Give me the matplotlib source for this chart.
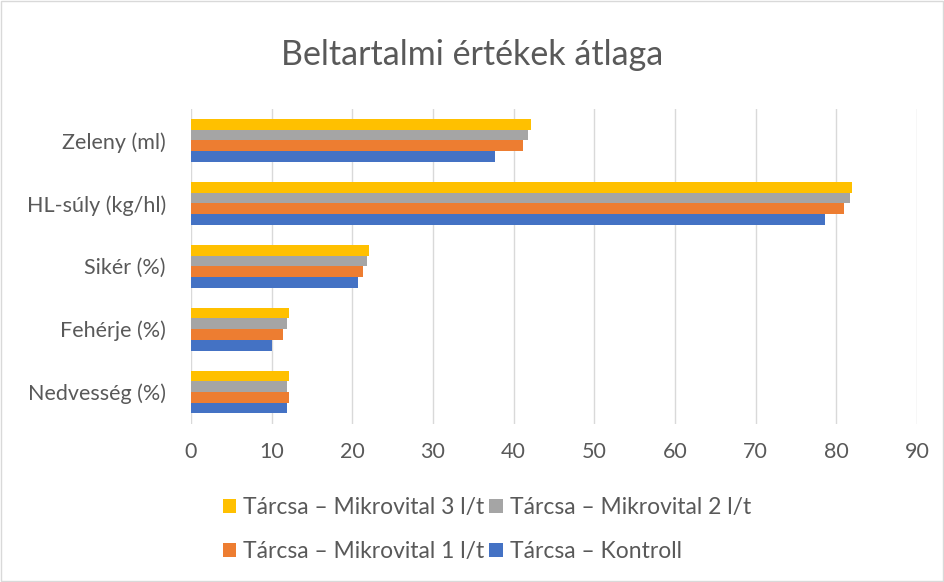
import matplotlib.pyplot as plt
import numpy as np
from matplotlib.patches import Rectangle

categories = ["Nedvesség (%)", "Fehérje (%)", "Sikér (%)", "HL-súly (kg/hl)", "Zeleny (ml)"]
kontroll = [11.85, 10.0, 20.7, 78.6, 37.7]
mikro1 = [12.1, 11.4, 21.3, 81.0, 41.2]
mikro2 = [11.9, 11.9, 21.8, 81.65, 41.75]
mikro3 = [12.1, 12.2, 22.1, 82.0, 42.1]
series = [
    ("Tárcsa – Kontroll", kontroll, "#4472C4"),
    ("Tárcsa – Mikrovital 1 l/t", mikro1, "#ED7D31"),
    ("Tárcsa – Mikrovital 2 l/t", mikro2, "#A5A5A5"),
    ("Tárcsa – Mikrovital 3 l/t", mikro3, "#FFC000"),
]
xticks = list(range(0, 100, 10))

plt.rcParams["font.family"] = ["Lato", "DejaVu Sans"]
text_color = "#595959"

fig = plt.figure(figsize=(9.45, 5.82), dpi=100)
ax = fig.add_axes([0.2021, 0.2723, 0.7683, 0.5404])

y = np.arange(len(categories))
h = 0.17
bars = {}
for i, (name, vals, color) in enumerate(series):
    bars[name] = ax.barh(y + (i - 1.5) * h, vals, height=h, color=color, label=name, zorder=3)

ax.set_xlim(0, 90)
ax.set_ylim(-0.5, len(categories) - 0.5)
ax.set_xticks(xticks)
ax.set_yticks(y)
ax.set_yticklabels(categories)
ax.grid(axis="x", color="#D9D9D9", linewidth=1, zorder=0)
for s in ax.spines.values():
    s.set_visible(False)
ax.tick_params(axis="both", length=0, labelsize=15.5, colors=text_color)
ax.tick_params(axis="x", pad=13)
ax.tick_params(axis="y", pad=18)

fig.text(0.5, 0.905, "Beltartalmi értékek átlaga", ha="center", va="center",
         fontsize=24.5, color=text_color)

order = ["Tárcsa – Mikrovital 3 l/t", "Tárcsa – Mikrovital 1 l/t",
         "Tárcsa – Mikrovital 2 l/t", "Tárcsa – Kontroll"]
fig.legend([bars[n] for n in order], order, ncol=2, loc="center",
           bbox_to_anchor=(0.515, 0.09), frameon=False, fontsize=16.5,
           labelcolor=text_color, handlelength=0.6, handleheight=0.6,
           handletextpad=0.3, columnspacing=0.2, labelspacing=1.0)

fig.patches.append(Rectangle((0.001, 0.001), 0.997, 0.997, transform=fig.transFigure,
                             fill=False, edgecolor="#D9D9D9", linewidth=1))

fig.savefig("out.png", dpi=100)
plt.close(fig)
